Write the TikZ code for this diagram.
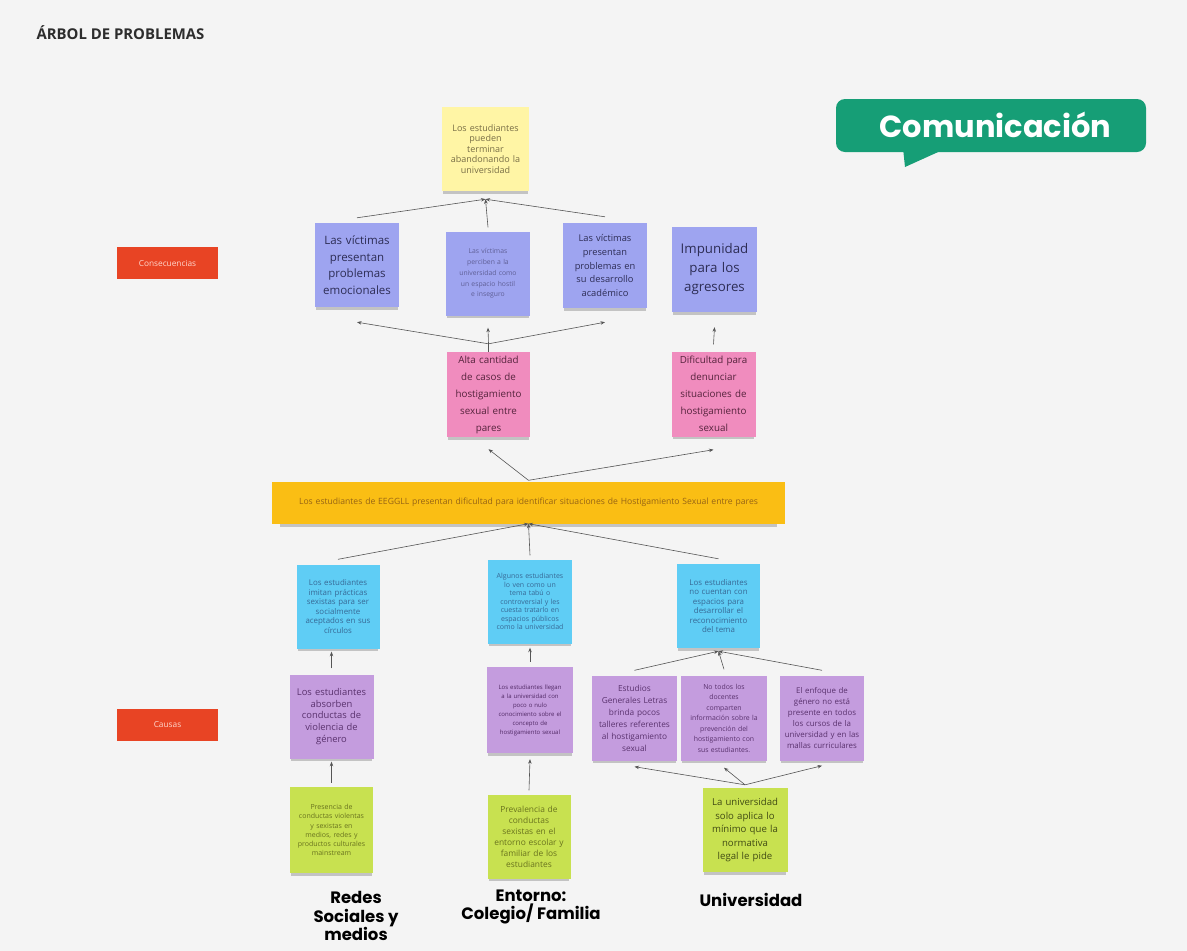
\documentclass[tikz,border=0pt]{standalone}
\usepackage{fontspec}
\setmainfont{Open Sans}
\newfontfamily\popfont{Poppins}
\usetikzlibrary{shadows,arrows.meta,calc}
\definecolor{bgc}{RGB}{244,244,244}
\definecolor{yel}{RGB}{255,245,165}
\definecolor{lav}{RGB}{158,164,240}
\definecolor{pnk}{RGB}{240,140,190}
\definecolor{org}{RGB}{250,190,20}
\definecolor{cya}{RGB}{95,205,245}
\definecolor{pur}{RGB}{196,156,222}
\definecolor{grn}{RGB}{200,225,80}
\definecolor{redl}{RGB}{232,68,36}
\definecolor{teal}{RGB}{22,158,118}
\definecolor{linec}{RGB}{85,85,85}
\newcommand{\setfs}[2]{\fontsize{#1}{#2}\selectfont}
\tikzset{
  note/.style={rectangle, inner sep=0pt, align=center,
    drop shadow={shadow xshift=0pt, shadow yshift=-4pt, shadow scale=0.97, opacity=0.2, fill=black}},
  conn/.style={draw=linec, line width=0.6pt, -{Stealth[length=4.5pt,width=3.5pt]}},
  plain/.style={draw=linec, line width=0.6pt},
  lbl/.style={rectangle, fill=redl, minimum width=101pt, minimum height=32pt, inner sep=0pt,
    text={rgb,255:red,255;green,215;blue,205}, font=\setfs{8.3}{10}},
  bottomlbl/.style={align=center, font=\popfont\bfseries\setfs{16.5}{18.5}, text=black}
}
\begin{document}
\begin{tikzpicture}[x=1pt,y=-1pt]
\fill[bgc] (0,0) rectangle (1187,951);
\useasboundingbox (0,0) rectangle (1187,951);

% title
\node[anchor=west, font=\bfseries\setfs{14.9}{17}, text={rgb,255:red,45;green,45;blue,45}] (title) at (33,33) {ÁRBOL DE PROBLEMAS};

% badge
\fill[teal] (903,148) -- (947,148) -- (905,167) -- cycle;
\node[fill=teal, rounded corners=9pt, minimum width=310pt, minimum height=53pt, inner sep=0pt] (badge) at (991,125.5) {};
\node[text=white, font=\popfont\bfseries\setfs{30.5}{33}, inner sep=0pt] (comm) at (995.5,124.5) {Comunicación};

% side labels
\node[lbl] (cons) at (167.5,263) {Consecuencias};
\node[lbl] (caus) at (167.5,725) {Causas};

% consequences
\node[note, fill=yel, minimum width=87pt, minimum height=84pt, text width=82pt,
  text={rgb,255:red,120;green,110;blue,70}, font=\setfs{9}{10.5}] (y) at (485.5,149)
  {Los estudiantes\\pueden\\terminar\\abandonando la\\universidad};

\node[note, fill=lav, minimum width=84pt, minimum height=84pt, text width=80pt,
  text={rgb,255:red,45;green,45;blue,85}, font=\setfs{11.5}{16.5}] (b1) at (357,265)
  {Las víctimas\\presentan\\problemas\\emocionales};
\node[note, fill=lav, minimum width=84pt, minimum height=84pt, text width=80pt,
  text={rgb,255:red,95;green,95;blue,150}, font=\setfs{6.8}{10.8}] (b2) at (488,273.5)
  {Las víctimas\\perciben a la\\universidad como\\un espacio hostil\\e inseguro};
\node[note, fill=lav, minimum width=84pt, minimum height=85pt, text width=80pt,
  text={rgb,255:red,45;green,45;blue,85}, font=\setfs{9.3}{13.7}] (b3) at (605,265.5)
  {Las víctimas\\presentan\\problemas en\\su desarrollo\\académico};
\node[note, fill=lav, minimum width=85pt, minimum height=85pt, text width=82pt,
  text={rgb,255:red,45;green,45;blue,85}, font=\setfs{13.3}{19}] (b4) at (714.5,269.5)
  {Impunidad\\para los\\agresores};

\node[note, fill=pnk, minimum width=83pt, minimum height=85pt, text width=80pt,
  text={rgb,255:red,85;green,35;blue,60}, font=\setfs{9.8}{17}] (p1) at (488.5,394.5)
  {Alta cantidad\\de casos de\\hostigamiento\\sexual entre\\pares};
\node[note, fill=pnk, minimum width=84pt, minimum height=85pt, text width=80pt,
  text={rgb,255:red,85;green,35;blue,60}, font=\setfs{9.8}{17}] (p2) at (713.5,394)
  {Dificultad para\\denunciar\\situaciones de\\hostigamiento\\sexual};

% central problem
\node[note, fill=org, minimum width=513pt, minimum height=42pt, text width=505pt,
  text={rgb,255:red,150;green,100;blue,20}, font=\setfs{8.6}{10}] (bar) at (528.5,502.5)
  {Los estudiantes de EEGGLL presentan dificultad para identificar situaciones de Hostigamiento Sexual entre pares};

% causes (level 1)
\node[note, fill=cya, minimum width=83pt, minimum height=84pt, text width=80pt,
  text={rgb,255:red,55;green,105;blue,150}, font=\setfs{7.9}{9.6}] (c1) at (338,606.5)
  {Los estudiantes\\imitan prácticas\\sexistas para ser\\socialmente\\aceptados en sus\\círculos};
\node[note, fill=cya, minimum width=84pt, minimum height=84pt, text width=82pt,
  text={rgb,255:red,55;green,105;blue,150}, font=\setfs{7}{8.5}] (c2) at (530,601.5)
  {Algunos estudiantes\\lo ven como un\\tema tabú o\\controversial y les\\cuesta tratarlo en\\espacios públicos\\como la universidad};
\node[note, fill=cya, minimum width=83pt, minimum height=84pt, text width=80pt,
  text={rgb,255:red,55;green,105;blue,150}, font=\setfs{7.9}{9.5}] (c3) at (718.5,606)
  {Los estudiantes\\no cuentan con\\espacios para\\desarrollar el\\reconocimiento\\del tema};

% causes (level 2)
\node[note, fill=pur, minimum width=84pt, minimum height=84pt, text width=80pt,
  text={rgb,255:red,90;green,50;blue,110}, font=\setfs{9.4}{11.7}] (u1) at (331.5,716.5)
  {Los estudiantes\\absorben\\conductas de\\violencia de\\género};
\node[note, fill=pur, minimum width=86pt, minimum height=86pt, text width=82pt,
  text={rgb,255:red,80;green,40;blue,100}, font=\setfs{6}{9}] (u2) at (530,710)
  {Los estudiantes llegan\\a la universidad con\\poco o nulo\\conocimiento sobre el\\concepto de\\hostigamiento sexual};
\node[note, fill=pur, minimum width=85pt, minimum height=85pt, text width=82pt,
  text={rgb,255:red,90;green,50;blue,110}, font=\setfs{8.3}{12}] (u3) at (634.5,718)
  {Estudios\\Generales Letras\\brinda pocos\\talleres referentes\\al hostigamiento\\sexual};
\node[note, fill=pur, minimum width=86pt, minimum height=85pt, text width=84pt,
  text={rgb,255:red,90;green,50;blue,110}, font=\setfs{6.9}{10.5}] (u4) at (724,718)
  {No todos los\\docentes\\comparten\\información sobre la\\prevención del\\hostigamiento con\\sus estudiantes.};
\node[note, fill=pur, minimum width=84pt, minimum height=85pt, text width=82pt,
  text={rgb,255:red,90;green,50;blue,110}, font=\setfs{7.9}{11}] (u5) at (822,718)
  {El enfoque de\\género no está\\presente en todos\\los cursos de la\\universidad y en las\\mallas curriculares};

% root causes
\node[note, fill=grn, minimum width=83pt, minimum height=86pt, text width=82pt,
  text={rgb,255:red,105;green,115;blue,30}, font=\setfs{7}{9.2}] (g1) at (331.5,830)
  {Presencia de\\conductas violentas\\y sexistas en\\medios, redes y\\productos culturales\\mainstream};
\node[note, fill=grn, minimum width=83pt, minimum height=84pt, text width=80pt,
  text={rgb,255:red,105;green,115;blue,30}, font=\setfs{8.4}{11}] (g2) at (529,836.5)
  {Prevalencia de\\conductas\\sexistas en el\\entorno escolar y\\familiar de los\\estudiantes};
\node[note, fill=grn, minimum width=85pt, minimum height=84pt, text width=82pt,
  text={rgb,255:red,65;green,75;blue,20}, font=\setfs{9.6}{13.5}] (g3) at (745,830)
  {La universidad\\solo aplica lo\\mínimo que la\\normativa\\legal le pide};

% bottom labels
\node[bottomlbl] (l1) at (356,916) {Redes\\Sociales y\\medios};
\node[bottomlbl] (l2) at (531,907) {Entorno:\\Colegio/ Familia};
\node[bottomlbl] (l3) at (751,900) {Universidad};

% connectors: consequences
\coordinate (yin) at ($(y.south)+(0,8)$);
\draw[conn] ($(b1.north)+(0,-5)$) -- (yin);
\draw[conn] ($(b2.north)+(0,-4)$) -- (yin);
\draw[conn] ($(b3.north)+(0,-6)$) -- (yin);
\coordinate (pj) at ($(p1.north)+(0,-8)$);
\draw[plain] (p1.north) -- (pj);
\draw[conn] (pj) -- ($(b1.south)+(0,15)$);
\draw[conn] (pj) -- ($(b2.south)+(0,12)$);
\draw[conn] (pj) -- ($(b3.south)+(0,14)$);
\draw[conn] ($(p2.north)+(0,-7)$) -- ($(b4.south)+(0,15)$);
\draw[conn] ($(bar.north)+(0,-1)$) -- ($(p1.south)+(0,12)$);
\draw[conn] ($(bar.north)+(0,-1)$) -- ($(p2.south)+(0,13)$);

% connectors: causes
\draw[conn] ($(c1.north)+(0,-5)$) -- (bar.south);
\draw[conn] ($(c2.north)+(0,-4)$) -- (bar.south);
\draw[conn] ($(c3.north)+(0,-5)$) -- (bar.south);
\draw[conn] ($(u1.north)+(0,-6)$) -- ($(u1.north |- c1.south)+(0,3)$);
\draw[conn] ($(u2.north)+(0,-5)$) -- ($(c2.south)+(0,4)$);
\coordinate (cin) at ($(c3.south)+(0,3)$);
\draw[conn] ($(u3.north)+(0,-5)$) -- (cin);
\draw[conn] ($(u4.north)+(0,-6)$) -- (cin);
\draw[conn] ($(u5.north)+(0,-5)$) -- (cin);
\draw[conn] ($(g1.north)+(0,-4)$) -- ($(u1.south)+(0,3)$);
\draw[conn] ($(g2.north)+(0,-4)$) -- ($(u2.south)+(0,6)$);
\coordinate (gout) at ($(g3.north)+(0,-3)$);
\draw[conn] (gout) -- ($(u3.south)+(0,6)$);
\draw[conn] (gout) -- ($(u4.south)+(0,7)$);
\draw[conn] (gout) -- ($(u5.south)+(0,5)$);
\end{tikzpicture}
\end{document}
